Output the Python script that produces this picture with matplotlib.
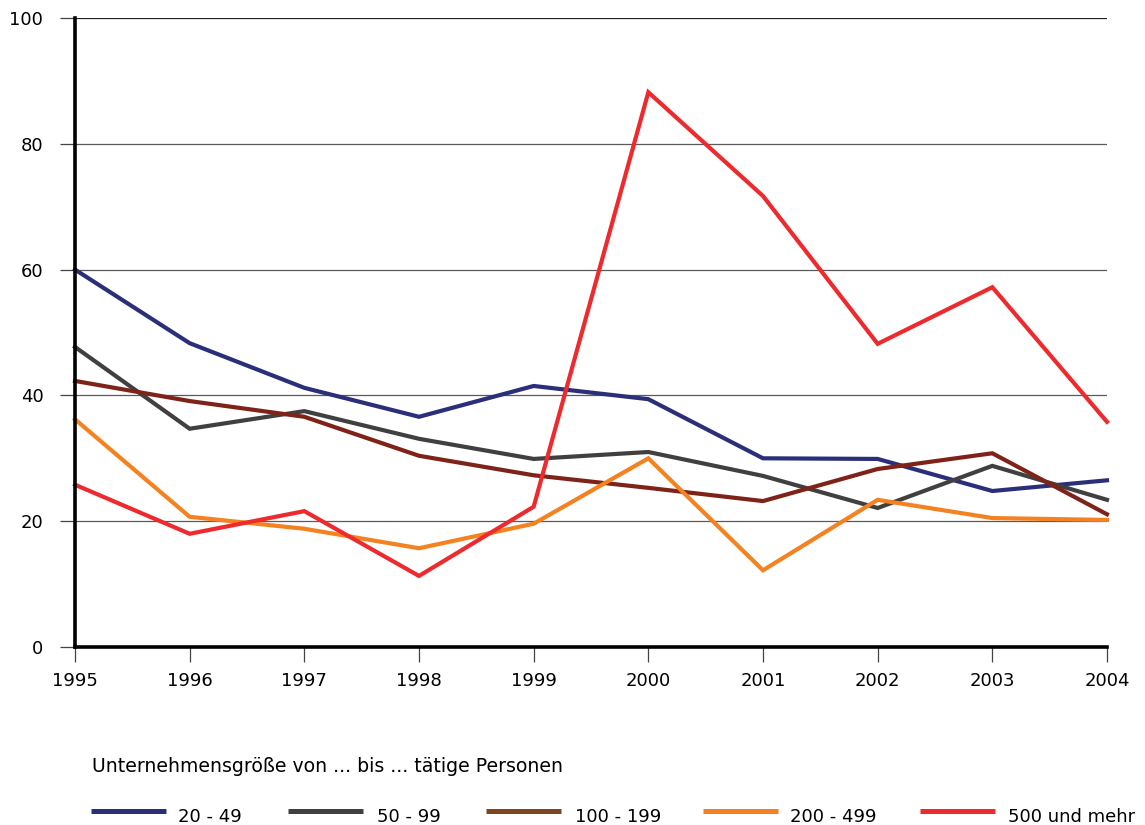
import matplotlib
matplotlib.use("Agg")
import matplotlib.pyplot as plt
from matplotlib.lines import Line2D

years = [1995, 1996, 1997, 1998, 1999, 2000, 2001, 2002, 2003, 2004]
s_20_49 = [60.0, 48.3, 41.2, 36.6, 41.5, 39.4, 30.0, 29.9, 24.8, 26.5]
s_50_99 = [47.7, 34.7, 37.5, 33.1, 29.9, 31.0, 27.2, 22.1, 28.8, 23.4]
s_100_199 = [42.3, 39.1, 36.6, 30.4, 27.3, 25.3, 23.2, 28.3, 30.8, 21.1]
s_200_499 = [36.2, 20.7, 18.8, 15.7, 19.6, 30.0, 12.2, 23.4, 20.5, 20.2]
s_500 = [25.8, 18.0, 21.6, 11.3, 22.3, 88.2, 71.7, 48.2, 57.2, 35.8]
labels = ["20 - 49", "50 - 99", "100 - 199", "200 - 499", "500 und mehr"]
legend_title = "Unternehmensgröße von ... bis ... tätige Personen"
yticks = [0, 20, 40, 60, 80, 100]

line_colors = ["#2b2f7a", "#404040", "#7f2318", "#f58220", "#ee2a2e"]
legend_colors = ["#2b2f7a", "#404040", "#7f4520", "#f58220", "#ee2a2e"]

plt.rcParams["font.family"] = ["DejaVu Sans"]

W, H = 1145, 825
fig = plt.figure(figsize=(W / 100, H / 100), dpi=100)
ax = fig.add_axes([75 / W, (H - 647) / H, (1107 - 75) / W, (647 - 18) / H])

series = [s_20_49, s_50_99, s_100_199, s_200_499, s_500]
for s, c in zip(series, line_colors):
    ax.plot(years, s, color=c, lw=3.0, solid_joinstyle="miter", clip_on=False, zorder=3)

ax.set_xlim(1995, 2004)
ax.set_ylim(0, 100)
ax.set_xticks(years)
ax.set_yticks(yticks)
for y in yticks[1:]:
    ax.axhline(y, color="#5a5a5a" if y < 100 else "#222222", lw=0.9, zorder=1)

for side in ["top", "right"]:
    ax.spines[side].set_visible(False)
ax.spines["left"].set_linewidth(2.6)
ax.spines["bottom"].set_linewidth(2.6)
ax.spines["left"].set_zorder(4)
ax.spines["bottom"].set_zorder(4)

ax.tick_params(axis="y", direction="out", length=10.8, width=0.9, color="#444444",
               labelsize=13, pad=12)
ax.tick_params(axis="x", direction="out", length=11, width=0.9, color="#444444",
               labelsize=13, pad=7)

# legend title
fig.text(92 / W, 1 - 772 / H, legend_title, fontsize=13.6, va="baseline", ha="left")

# legend entries laid out in figure pixels
handle_x0 = [91, 288, 486, 703, 920]
handle_len = 75
text_x0 = [178, 377, 575, 790, 1008]
for x0, tx, lab, c in zip(handle_x0, text_x0, labels, legend_colors):
    fig.add_artist(Line2D([x0 / W, (x0 + handle_len) / W], [1 - 811 / H, 1 - 811 / H],
                          transform=fig.transFigure, color=c, lw=3.6,
                          solid_capstyle="butt"))
    fig.text(tx / W, 1 - 822 / H, lab, fontsize=13, va="baseline", ha="left")

fig.savefig("out.png", dpi=100)
